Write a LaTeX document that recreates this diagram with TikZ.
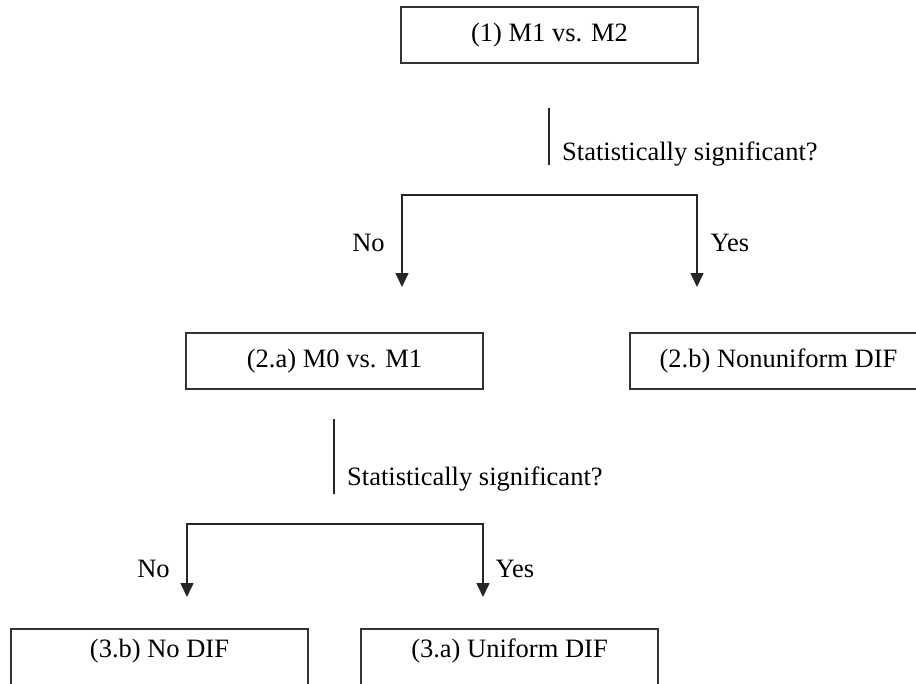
\documentclass[tikz,border=0pt]{standalone}
\usepackage{fontspec}
\setmainfont{Liberation Serif}
\usetikzlibrary{arrows.meta}
\begin{document}
\begin{tikzpicture}[x=1pt,y=-1pt,
  txt/.style={font=\fontsize{26.5}{31}\selectfont},
  box/.style={txt, draw=black!80, line width=2pt, minimum width=297pt, minimum height=56pt, inner sep=0pt, text height=18pt, text depth=6pt},
  lowbox/.style={box, text depth=18pt},
  lbl/.style={txt, inner sep=0pt, anchor=base},
  conn/.style={draw=black!85, line width=1.6pt},
  arr/.style={conn, {Triangle[width=13pt,length=14pt]}-{Triangle[width=13pt,length=14pt]}}
]
\useasboundingbox (0,0) rectangle (916,683);
\clip (0,0) rectangle (916,683);
% level 1
\node[box] (m12) at (549.5,35) {(1) M1 vs. M2};
\coordinate (q1top) at (549,108);
\coordinate (q1bot) at (549,165);
\draw[conn] (q1top) -- (q1bot);
\node[lbl, anchor=base west] (sig1) at (562,160) {Statistically significant?};
\coordinate (t1L) at (402,287);
\coordinate (c1L) at (402,195);
\coordinate (c1R) at (697,195);
\coordinate (t1R) at (697,287);
\draw[arr] (t1L) -- (c1L) -- (c1R) -- (t1R);
\node[lbl] (no1) at (368.5,251) {No};
\node[lbl] (yes1) at (730,251) {Yes};
% level 2
\node[box] (m01) at (334.5,361) {(2.a) M0 vs. M1};
\node[box] (nu) at (778.5,361) {(2.b) Nonuniform DIF};
\coordinate (q2top) at (334,419);
\coordinate (q2bot) at (334,494);
\draw[conn] (q2top) -- (q2bot);
\node[lbl, anchor=base west] (sig2) at (347,485) {Statistically significant?};
\coordinate (t2L) at (187,597);
\coordinate (c2L) at (187,524);
\coordinate (c2R) at (483,524);
\coordinate (t2R) at (483,597);
\draw[arr] (t2L) -- (c2L) -- (c2R) -- (t2R);
\node[lbl] (no2) at (153.5,577) {No};
\node[lbl] (yes2) at (515,577) {Yes};
% level 3
\node[lowbox] (nodif) at (159.5,657) {(3.b) No DIF};
\node[lowbox] (unif) at (509.5,657) {(3.a) Uniform DIF};
\end{tikzpicture}
\end{document}
